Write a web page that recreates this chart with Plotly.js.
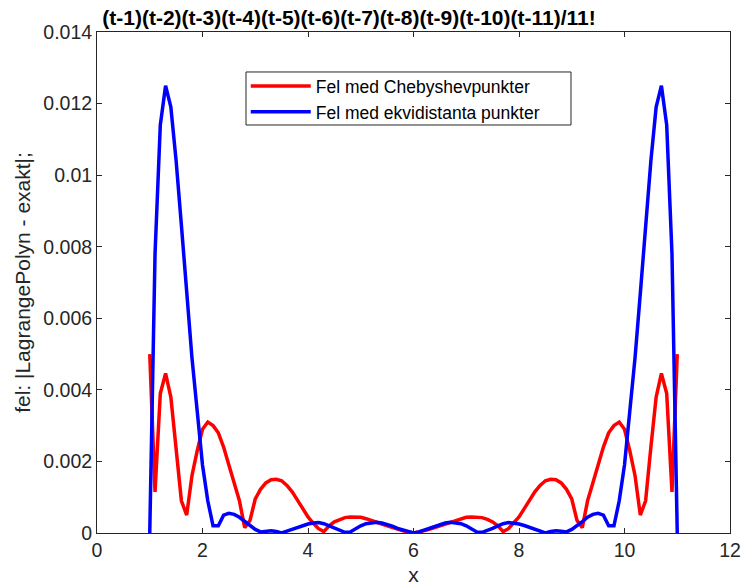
<!DOCTYPE html>
<html>
<head>
<meta charset="utf-8">
<script src="https://cdn.plot.ly/plotly-3.0.1.min.js"></script>
<style>html,body{margin:0;padding:0;background:#fff}#chart{width:741px;height:588px}</style>
</head>
<body>
<div id="chart"></div>
<script>
const xValues = [1.0,1.1,1.2,1.3,1.4,1.5,1.6,1.7,1.8,1.9,2.0,2.1,2.2,2.3,2.4,2.5,2.6,2.7,2.8,2.9,3.0,3.1,3.2,3.3,3.4,3.5,3.6,3.7,3.8,3.9,4.0,4.1,4.2,4.3,4.4,4.5,4.6,4.7,4.8,4.9,5.0,5.1,5.2,5.3,5.4,5.5,5.6,5.7,5.8,5.9,6.0,6.1,6.2,6.3,6.4,6.5,6.6,6.7,6.8,6.9,7.0,7.1,7.2,7.3,7.4,7.5,7.6,7.7,7.8,7.9,8.0,8.1,8.2,8.3,8.4,8.5,8.6,8.7,8.8,8.9,9.0,9.1,9.2,9.3,9.4,9.5,9.6,9.7,9.8,9.9,10.0,10.1,10.2,10.3,10.4,10.5,10.6,10.7,10.8,10.9,11.0];

const chebyshevError = [0.0050,0.00115,0.0039,0.00446,0.0038,0.0024,0.0009,0.0005,0.0016,0.0023,0.0029,0.0031,0.0030,0.0028,0.0024,0.0019,0.0014,0.0009,0.00015,0.00035,0.00095,0.00122,0.0014,0.00149,0.0015,0.00146,0.00133,0.00115,0.00092,0.00068,0.00045,0.00027,0.00012,0.00004,0.0002,0.00031,0.00038,0.00043,0.00045,0.00045,0.00044,0.0004,0.00036,0.0003,0.00025,0.0002,0.00015,0.0001,0.00006,0.00003,0,0.00003,0.00006,0.0001,0.00015,0.0002,0.00025,0.0003,0.00036,0.0004,0.00044,0.00045,0.00045,0.00043,0.00038,0.00031,0.0002,0.00004,0.00012,0.00027,0.00045,0.00068,0.00092,0.00115,0.00133,0.00146,0.0015,0.00149,0.0014,0.00122,0.00095,0.00035,0.00015,0.0009,0.0014,0.0019,0.0024,0.0028,0.0030,0.0031,0.0029,0.0023,0.0016,0.0005,0.0009,0.0024,0.0038,0.00446,0.0039,0.00115,0.0050];

const equidistantError = [0,0.0078,0.0114,0.0125,0.0119,0.0104,0.0086,0.0067,0.0049,0.0034,0.0019,0.0009,0.0002,0.0002,0.0005,0.00055,0.00052,0.00044,0.00032,0.0002,0.0001,0.00003,0.00005,0.00006,0.00004,0,0.00005,0.0001,0.00016,0.00021,0.00025,0.00028,0.00029,0.00026,0.0002,0.00013,0.00007,0.00002,0.00003,0.00012,0.0002,0.00026,0.00029,0.0003,0.00028,0.00024,0.00019,0.00013,0.00008,0.00003,0,0.00003,0.00008,0.00013,0.00019,0.00024,0.00028,0.0003,0.00029,0.00026,0.0002,0.00012,0.00003,0.00002,0.00007,0.00013,0.0002,0.00026,0.00029,0.00028,0.00025,0.00021,0.00016,0.0001,0.00005,0,0.00004,0.00006,0.00005,0.00003,0.0001,0.0002,0.00032,0.00044,0.00052,0.00055,0.0005,0.0002,0.0002,0.0009,0.0019,0.0034,0.0049,0.0067,0.0086,0.0104,0.0119,0.0125,0.0114,0.0078,0];

const xTickValues = [0,2,4,6,8,10,12];
const xTickLabels = ['0','2','4','6','8','10','12'];
const yTickValues = [0,0.002,0.004,0.006,0.008,0.010,0.012,0.014];
const yTickLabels = ['0','0.002','0.004','0.006','0.008','0.01','0.012','0.014'];

const seriesNames = ['Fel med Chebyshevpunkter','Fel med ekvidistanta punkter'];
const titleText = '(t-1)(t-2)(t-3)(t-4)(t-5)(t-6)(t-7)(t-8)(t-9)(t-10)(t-11)/11!';
const xLabel = 'x';
const yLabel = 'fel: |LagrangePolyn - exakt|;';

const FONT = '"Liberation Sans", Arial, Helvetica, sans-serif';
const axisColor = '#262626';

const traces = [
  {x: xValues, y: chebyshevError, name: seriesNames[0], type: 'scatter', mode: 'lines',
   line: {color: '#ff0000', width: 3.5}},
  {x: xValues, y: equidistantError, name: seriesNames[1], type: 'scatter', mode: 'lines',
   line: {color: '#0000ff', width: 3.5}}
];

const layout = {
  width: 741, height: 588,
  margin: {l: 97, r: 11, t: 32, b: 55, pad: 0},
  paper_bgcolor: '#ffffff', plot_bgcolor: '#ffffff',
  font: {family: FONT, size: 17, color: '#000000'},
  title: {text: '<b>' + titleText + '</b>', font: {family: FONT, size: 21, color: '#000000'},
          x: 0.471, xanchor: 'center', y: 0.97, yanchor: 'middle'},
  xaxis: {
    range: [0, 12], tickvals: xTickValues, ticktext: xTickLabels,
    ticks: 'inside', ticklen: 5, tickwidth: 1, tickcolor: axisColor,
    showline: true, linecolor: axisColor, linewidth: 1, mirror: 'ticks',
    showgrid: false, zeroline: false,
    tickfont: {family: FONT, size: 19.5, color: '#262626'},
    title: {text: xLabel, font: {family: FONT, size: 21, color: '#262626'}, standoff: 6}
  },
  yaxis: {
    range: [0, 0.014], tickvals: yTickValues, ticktext: yTickLabels,
    ticks: 'inside', ticklen: 5, tickwidth: 1, tickcolor: axisColor,
    showline: true, linecolor: axisColor, linewidth: 1, mirror: 'ticks',
    showgrid: false, zeroline: false,
    tickfont: {family: FONT, size: 19.5, color: '#262626'},
    title: {text: yLabel, font: {family: FONT, size: 21, color: '#262626'}, standoff: 6}
  },
  showlegend: true,
  legend: {
    x: 0.235, y: 0.928, xanchor: 'left', yanchor: 'top',
    bgcolor: 'rgba(0,0,0,0)', borderwidth: 0,
    font: {family: FONT, size: 17.5, color: '#000000'},
    itemwidth: 60, tracegroupgap: 0
  },
  shapes: [
    {type: 'rect', xref: 'paper', yref: 'paper', x0: 0.2354, x1: 0.7488, y0: 0.8144, y1: 0.9202,
     line: {color: '#262626', width: 1}, fillcolor: '#ffffff', layer: 'below'}
  ]
};

Plotly.newPlot('chart', traces, layout, {displayModeBar: false, staticPlot: true});
</script>
</body>
</html>
